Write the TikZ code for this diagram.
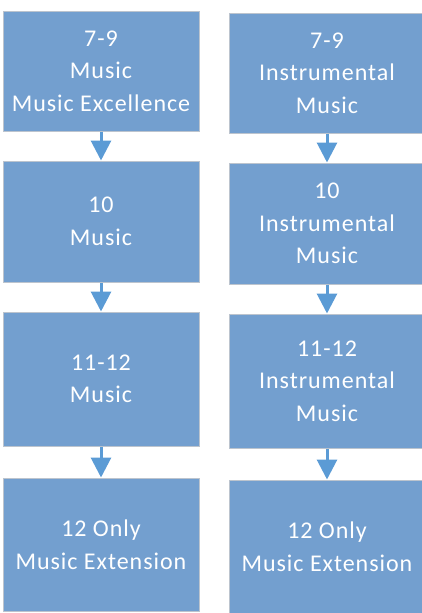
\documentclass[tikz,border=0pt]{standalone}
\usepackage{fontspec}
\setmainfont{Carlito}[LetterSpace=4]
\usepackage{xcolor}
\usepackage{tikz}
\usetikzlibrary{arrows.meta}
\definecolor{bleu}{HTML}{739FCF}
\definecolor{azur}{HTML}{5B9BD5}
\definecolor{gris}{HTML}{BCC4CE}

\begin{document}
\begin{tikzpicture}[x=1pt, y=-1pt,
    bloc/.style={draw=gris, line width=1pt, fill=bleu, text=white, align=center,
      minimum width=196pt, inner sep=0pt, font=\fontsize{24}{32.5}\selectfont},
    fleche/.style={azur, line width=3pt, -{Triangle[width=20pt, length=20pt]}}]
    \useasboundingbox (0,0) rectangle (422,613);
    % colonne de gauche
    \foreach \nom/\y/\h/\lab in {l1/71/120/{7-9\\Music\\Music Excellence},
        l2/221.5/121/{10\\Music}, l3/379/134/{11-12\\Music},
        l4/544.5/133/{12 Only\\Music Extension}} {
      \node[bloc, minimum height=\h] (\nom) at (101, \y) {\lab};
    }
    % colonne de droite
    \foreach \nom/\y/\h/\lab in {r1/73/120/{7-9\\Instrumental\\Music},
        r2/223.5/121/{10\\Instrumental\\Music}, r3/381/134/{11-12\\Instrumental\\Music},
        r4/546.5/133/{12 Only\\Music Extension}} {
      \node[bloc, minimum height=\h] (\nom) at (327, \y) {\lab};
    }
    \foreach \a/\b in {l1/l2, l2/l3, l3/l4, r1/r2, r2/r3, r3/r4} {
      \draw[fleche] (\a) -- (\b);
    }
  \end{tikzpicture}
\end{document}
